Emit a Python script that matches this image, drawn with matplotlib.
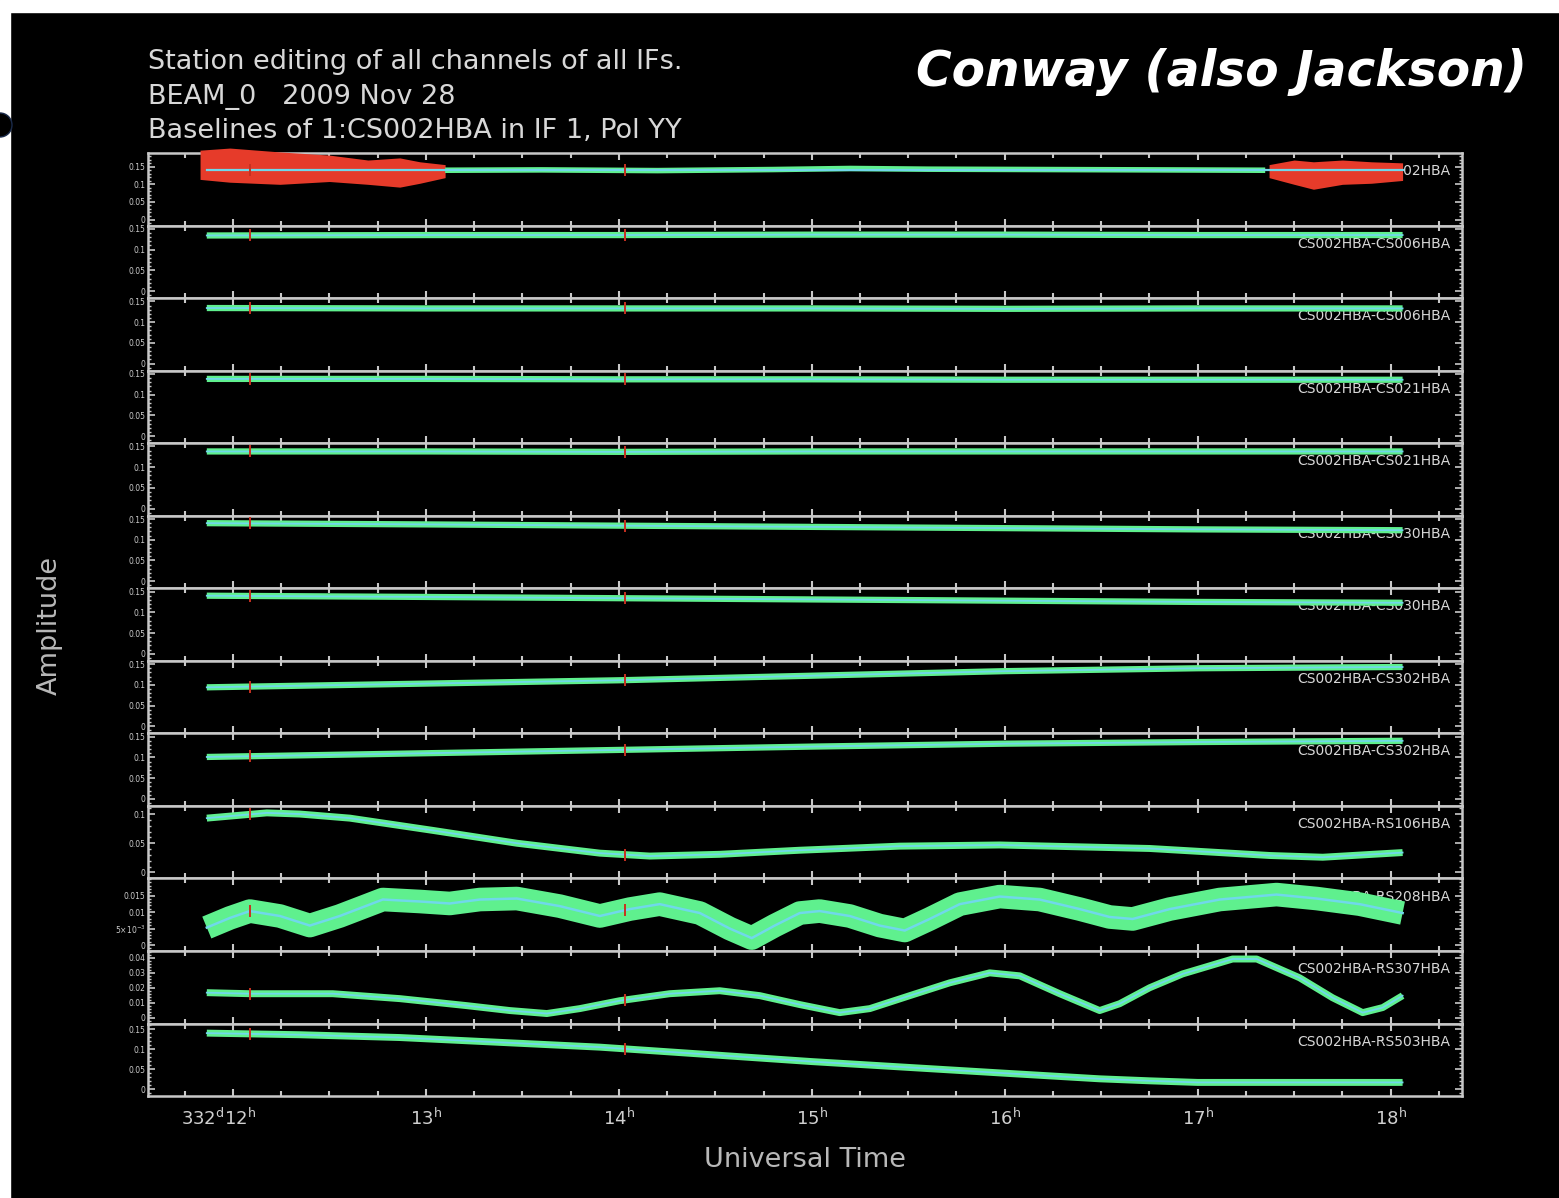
import numpy as np
import matplotlib
matplotlib.use('Agg')
import matplotlib.pyplot as plt
import matplotlib.transforms as mtransforms
from matplotlib.ticker import MultipleLocator, AutoMinorLocator, FixedLocator
from matplotlib.patches import Rectangle, Ellipse

# baselines of CS002HBA, top to bottom
baselines = ['CS002HBA-CS002HBA', 'CS002HBA-CS006HBA', 'CS002HBA-CS006HBA',
             'CS002HBA-CS021HBA', 'CS002HBA-CS021HBA', 'CS002HBA-CS030HBA',
             'CS002HBA-CS030HBA', 'CS002HBA-CS302HBA', 'CS002HBA-CS302HBA',
             'CS002HBA-RS106HBA', 'CS002HBA-RS208HBA', 'CS002HBA-RS307HBA',
             'CS002HBA-RS503HBA']

# UT hours and amplitudes (smoothed trace) per baseline
t_short = [11.865, 13.0, 14.0, 15.0, 16.0, 17.0, 18.062]
amp_flat = [
    [0.142, 0.142, 0.142, 0.142, 0.142, 0.142, 0.142],
    [0.134, 0.135, 0.135, 0.136, 0.136, 0.135, 0.135],
    [0.134, 0.133, 0.133, 0.133, 0.132, 0.133, 0.133],
    [0.138, 0.138, 0.137, 0.137, 0.136, 0.136, 0.136],
    [0.138, 0.138, 0.137, 0.138, 0.138, 0.138, 0.138],
    [0.140, 0.137, 0.134, 0.131, 0.128, 0.125, 0.123],
    [0.140, 0.137, 0.134, 0.131, 0.128, 0.125, 0.123],
    [0.094, 0.103, 0.111, 0.122, 0.133, 0.140, 0.143],
    [0.101, 0.110, 0.118, 0.126, 0.133, 0.137, 0.140],
]

t_rs106 = [11.865, 12.176, 12.347, 12.606, 13.036, 13.472, 13.902, 14.161, 14.523,
           14.938, 15.456, 15.974, 16.492, 16.751, 17.373, 17.648, 18.062]
amp_rs106 = [0.093, 0.102, 0.100, 0.093, 0.072, 0.050, 0.033, 0.028, 0.031,
             0.038, 0.045, 0.047, 0.043, 0.041, 0.029, 0.026, 0.034]

t_rs208 = [11.865, 11.984, 12.088, 12.244, 12.399, 12.554, 12.777, 12.969, 13.124,
           13.280, 13.472, 13.694, 13.902, 14.057, 14.212, 14.420, 14.575, 14.689,
           14.808, 14.938, 15.041, 15.197, 15.352, 15.482, 15.611, 15.767, 15.974,
           16.181, 16.389, 16.544, 16.663, 16.855, 17.114, 17.409, 17.617, 17.839, 18.062]
amp_rs208 = [0.0053, 0.0082, 0.0103, 0.0088, 0.0059, 0.0088, 0.0138, 0.0132, 0.0126,
             0.0138, 0.0141, 0.0118, 0.0088, 0.0109, 0.0124, 0.0097, 0.0050, 0.0021,
             0.0059, 0.0097, 0.0103, 0.0088, 0.0059, 0.0044, 0.0079, 0.0124, 0.0147,
             0.0138, 0.0109, 0.0085, 0.0079, 0.0109, 0.0138, 0.0153, 0.0141, 0.0124, 0.0097]

t_rs307 = [11.865, 12.088, 12.518, 12.865, 13.212, 13.435, 13.627, 13.798, 14.005,
           14.264, 14.523, 14.731, 14.938, 15.145, 15.301, 15.508, 15.715, 15.922,
           16.078, 16.285, 16.492, 16.596, 16.751, 16.922, 17.181, 17.306, 17.528,
           17.699, 17.855, 17.959, 18.062]
amp_rs307 = [0.0167, 0.0160, 0.0160, 0.0127, 0.0080, 0.0047, 0.0027, 0.0060, 0.0113,
             0.0160, 0.0180, 0.0147, 0.0087, 0.0033, 0.0060, 0.0147, 0.0233, 0.0300,
             0.0280, 0.0160, 0.0047, 0.0093, 0.0200, 0.0293, 0.0393, 0.0393, 0.0267,
             0.0133, 0.0033, 0.0067, 0.0147]

t_rs503 = [11.865, 12.347, 12.865, 13.383, 13.902, 15.0, 16.0, 16.492, 16.751, 17.0, 18.062]
amp_rs503 = [0.140, 0.136, 0.129, 0.117, 0.105, 0.069, 0.040, 0.026, 0.021, 0.017, 0.017]

# CS002HBA-CS002HBA: unflagged stretch and flagged (red) envelopes
t_good = [13.10, 13.6, 14.2, 14.8, 15.2, 15.6, 16.2, 16.8, 17.35]
amp_good = [0.140, 0.141, 0.139, 0.142, 0.145, 0.143, 0.142, 0.141, 0.140]
t_flag1 = [11.83, 11.984, 12.244, 12.5, 12.7, 12.865, 12.969, 13.10]
hi_flag1 = [0.197, 0.203, 0.192, 0.183, 0.169, 0.175, 0.164, 0.156]
lo_flag1 = [0.114, 0.106, 0.100, 0.108, 0.100, 0.092, 0.103, 0.119]
t_flag2 = [17.37, 17.5, 17.6, 17.75, 17.9, 18.062]
hi_flag2 = [0.156, 0.169, 0.164, 0.169, 0.164, 0.161]
lo_flag2 = [0.119, 0.100, 0.086, 0.100, 0.103, 0.111]

t_flagged_pts = [12.09, 14.03]

traces = [(t_short, a) for a in amp_flat] + [(t_rs106, amp_rs106), (t_rs208, amp_rs208),
                                              (t_rs307, amp_rs307), (t_rs503, amp_rs503)]

ylims = [(-0.017, 0.189)] + [(-0.017, 0.158)] * 8 + [(-0.0103, 0.114), (-0.0018, 0.0202),
                                                      (-0.004, 0.0447), (-0.017, 0.164)]
yticks = [[0, 0.05, 0.1, 0.15]] * 9 + [[0, 0.05, 0.1], [0, 0.005, 0.01, 0.015],
                                       [0, 0.01, 0.02, 0.03, 0.04], [0, 0.05, 0.1, 0.15]]
ylabels = [['0', '0.05', '0.1', '0.15']] * 9 + [['0', '0.05', '0.1'],
                                                ['0', r'5$\times$10$^{-3}$', '0.01', '0.015'],
                                                ['0', '0.01', '0.02', '0.03', '0.04'],
                                                ['0', '0.05', '0.1', '0.15']]
band_w = [4.5] * 9 + [5, 17, 5, 5]

green = '#5ff08e'
cyan = '#70d8ea'
red = '#e63b2a'
grey = '#c8c8c8'

fig, axes = plt.subplots(13, 1, sharex=True, figsize=(15.59, 11.98), dpi=100,
                         gridspec_kw={'hspace': 0})
fig.patch.set_facecolor('black')
fig.subplots_adjust(left=0.0949, right=0.9378, top=0.8723, bottom=0.0851)

for i, ax in enumerate(axes):
    ax.set_facecolor('black')
    t, a = traces[i]
    if i == 0:
        ax.fill_between(t_flag1, lo_flag1, hi_flag1, color=red, lw=0, zorder=3, clip_on=False)
        ax.fill_between(t_flag2, lo_flag2, hi_flag2, color=red, lw=0, zorder=3, clip_on=False)
        ax.plot(t_good, amp_good, color=green, lw=4, zorder=3, solid_capstyle='butt')
        ax.plot(t, a, color=cyan, lw=1.6, zorder=4)
    else:
        ax.plot(t, a, color=green, lw=band_w[i], zorder=3, solid_capstyle='butt')
        ax.plot(t, a, color=cyan, lw=1.8 if i == 10 else 1.3, zorder=4)
    ax.plot(t_flagged_pts, np.interp(t_flagged_pts, t, a), ls='none', marker='|',
            ms=9, mew=1.4, color='#c83020', zorder=5)

    ax.text(0.991, 0.75, baselines[i], transform=ax.transAxes, ha='right', va='center',
            fontsize=10, color='#d8d8d8', family=['Liberation Sans Narrow', 'DejaVu Sans'],
            zorder=2)

    ax.set_ylim(*ylims[i])
    ax.yaxis.set_major_locator(FixedLocator(yticks[i]))
    ax.set_yticklabels(ylabels[i])
    ax.yaxis.set_minor_locator(AutoMinorLocator(5))
    for s in ax.spines.values():
        s.set_color(grey)
        s.set_linewidth(1.8)
    ax.tick_params(axis='y', which='both', direction='in', left=True, right=True,
                   colors=grey, labelsize=5.5, labelcolor='#cccccc', pad=2)
    ax.tick_params(axis='y', which='major', length=5, width=1.2)
    ax.tick_params(axis='y', which='minor', length=2.5, width=1)
    ax.tick_params(axis='x', which='both', direction='in', top=True, bottom=True,
                   colors=grey, width=1.5)
    ax.tick_params(axis='x', which='major', length=5)
    ax.tick_params(axis='x', which='minor', length=3.5)

ax = axes[-1]
ax.set_xlim(11.56, 18.37)
ax.xaxis.set_major_locator(MultipleLocator(1))
ax.xaxis.set_minor_locator(MultipleLocator(0.25))
hours = [12, 13, 14, 15, 16, 17, 18]
ax.set_xticks(hours)
ax.set_xticklabels([r'332$^{\rm d}$12$^{\rm h}$'] + [f'{h}$^{{\\rm h}}$' for h in hours[1:]])
ax.tick_params(axis='x', labelsize=13, labelcolor='#d0d0d0', pad=8)
first = ax.get_xticklabels()[0]
first.set_transform(first.get_transform() +
                    mtransforms.ScaledTranslation(-0.14, 0, fig.dpi_scale_trans))

tfont = dict(color='#d8d8d8', fontsize=19.5, va='center')
fig.text(148 / 1559, 1 - 62 / 1198, 'Station editing of all channels of all IFs.', **tfont)
fig.text(148 / 1559, 1 - 97 / 1198, 'BEAM_0   2009 Nov 28', **tfont)
fig.text(148 / 1559, 1 - 131 / 1198, 'Baselines of 1:CS002HBA in IF 1, Pol YY', **tfont)
fig.text(1527 / 1559, 1 - 72 / 1198, 'Conway (also Jackson)', color='white',
         fontsize=35, weight='bold', style='italic', ha='right', va='center')

fig.text(50 / 1559, 1 - 625 / 1198, 'Amplitude', rotation=90, color='#b8b8b8',
         fontsize=19.5, ha='center', va='center')
fig.text(805 / 1559, 1 - 1160 / 1198, 'Universal Time', color='#b8b8b8',
         fontsize=19.5, ha='center', va='center')

# slide frame: white strip on top and left, bullet on the edge
fig.patches.append(Rectangle((0, 1 - 12 / 1198), 1, 12 / 1198, transform=fig.transFigure,
                             color='white', zorder=0))
fig.patches.append(Rectangle((0, 0), 10 / 1559, 1, transform=fig.transFigure,
                             color='white', zorder=0))
fig.patches.append(Ellipse((0, 1 - 125 / 1198), 24 / 1559, 24 / 1198, transform=fig.transFigure,
                           facecolor='black', edgecolor='#1a2a4a', lw=1, zorder=1))

fig.savefig('out.png', dpi=100, facecolor='black')
